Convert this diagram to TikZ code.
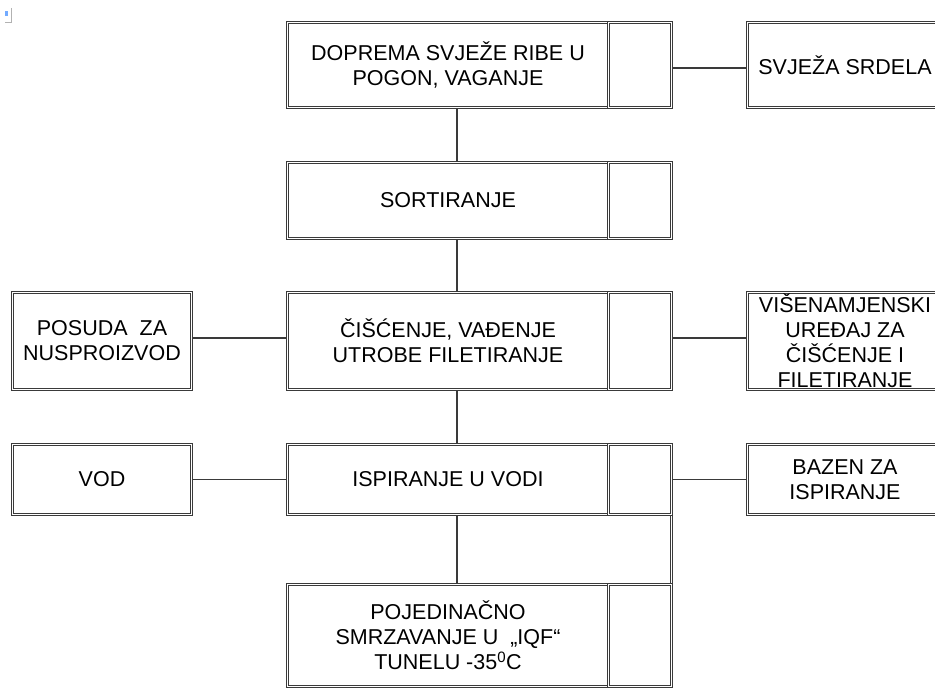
\documentclass[tikz,border=0pt]{standalone}
\usepackage{fontspec}
\setmainfont{Liberation Sans}
\usetikzlibrary{backgrounds}
\definecolor{lc}{HTML}{3A3A3A}
\begin{document}
\begin{tikzpicture}[x=1pt,y=-1pt,
  bx/.style={draw=lc, double=white, double distance=1.1pt, line width=0.9pt,
    inner sep=0pt, outer sep=0pt, rectangle, align=center,
    font=\fontsize{21.5}{25}\selectfont, text=black},
  ln/.style={draw=lc, line width=1.1pt},
  dl/.style={draw=lc, double=white, double distance=1.1pt, line width=0.9pt}]
\useasboundingbox (0,0) rectangle (935,695);
\clip (0,0) rectangle (935,695);
% small icon top-left
\fill[blue!60!cyan, opacity=0.55] (5,11.5) rectangle (8,16.5);
\draw[gray!60, line width=1pt] (11.5,8) -- (11.5,22.5) -- (5,22.5);
% main column
\node[bx, minimum width=321pt, minimum height=85pt] (dop) at (448,65) {DOPREMA SVJEŽE RIBE U\\POGON, VAGANJE};
\node[bx, minimum width=63pt, minimum height=85pt] (dopR) at (640,65) {};
\node[bx, minimum width=321pt, minimum height=76pt] (sort) at (448,200.5) {SORTIRANJE};
\node[bx, minimum width=63pt, minimum height=76pt] (sortR) at (640,200.5) {};
\node[bx, minimum width=321pt, minimum height=97pt] (cis) at (448,341) {ČIŠĆENJE, VAĐENJE\\UTROBE FILETIRANJE};
\node[bx, minimum width=63pt, minimum height=97pt] (cisR) at (640,341) {};
\node[bx, minimum width=321pt, minimum height=70pt] (isp) at (448,479.5) {ISPIRANJE U VODI};
\node[bx, minimum width=63pt, minimum height=70pt] (ispR) at (640,479.5) {};
\node[bx, minimum width=321pt, minimum height=102pt] (poj) at (448,635.5) {POJEDINAČNO\\SMRZAVANJE U\ \ „IQF“\\TUNELU -35\textsuperscript{0}C};
\node[bx, minimum width=63pt, minimum height=102pt] (pojR) at (640,635.5) {};
% side boxes
\node[bx, minimum width=195pt, minimum height=85pt] (svj) at (845,65) {SVJEŽA SRDELA};
\node[bx, minimum width=179pt, minimum height=97pt] (pos) at (102,341) {POSUDA\ \ ZA\\NUSPROIZVOD};
\node[bx, minimum width=195pt, minimum height=97pt] (vis) at (845,341) {VIŠENAMJENSKI\\UREĐAJ ZA\\ČIŠĆENJE I\\FILETIRANJE};
\node[bx, minimum width=179pt, minimum height=70pt] (vod) at (102,479.5) {VOD};
\node[bx, minimum width=195pt, minimum height=70pt] (baz) at (845,479.5) {BAZEN ZA\\ISPIRANJE};
\coordinate (sp) at (457,0);
\begin{scope}[on background layer]
\draw[ln] (dop.south -| sp) -- (sort.north -| sp);
\draw[ln] (sort.south -| sp) -- (cis.north -| sp);
\draw[ln] (cis.south -| sp) -- (isp.north -| sp);
\draw[ln] (isp.south -| sp) -- (poj.north -| sp);
\draw[dl] (ispR.south east) -- (pojR.north east);
\draw[ln] ([yshift=-3pt]dopR.east) -- ([yshift=-3pt]svj.west);
\draw[ln] ([yshift=3pt]pos.east) -- ([yshift=3pt]cis.west);
\draw[ln] ([yshift=3pt]cisR.east) -- ([yshift=3pt]vis.west);
\draw[ln] (vod.east) -- (isp.west);
\draw[ln] (ispR.east) -- (baz.west);
\end{scope}
\end{tikzpicture}
\end{document}
